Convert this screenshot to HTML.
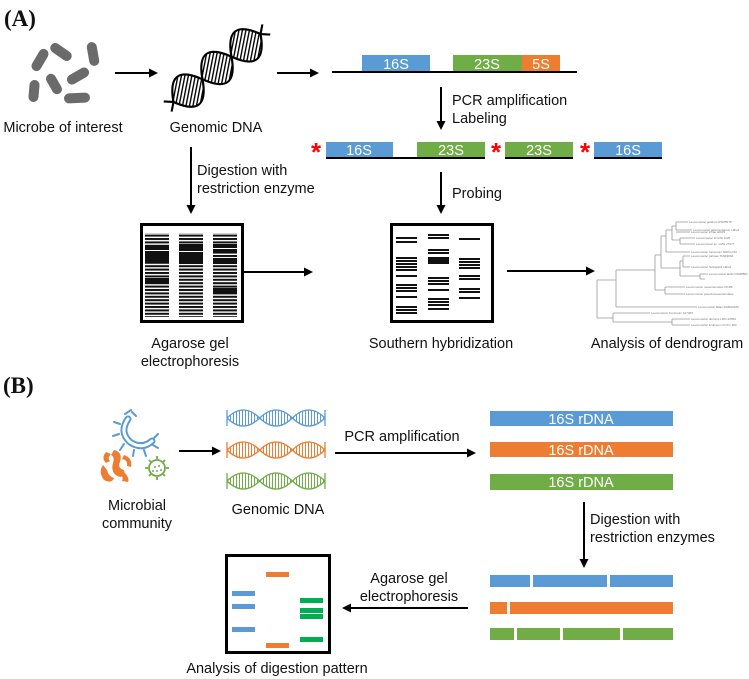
<!DOCTYPE html>
<html><head><meta charset="utf-8"><style>
html,body{margin:0;padding:0;background:#fff}
svg{display:block}
text{font-family:"Liberation Sans",sans-serif;font-size:14.5px;fill:#111}
.w{fill:#fff}
.s{font-family:"Liberation Serif",serif;font-weight:bold;font-size:23px}
</style></head><body>
<svg width="749" height="679" viewBox="0 0 749 679" xmlns="http://www.w3.org/2000/svg">
<defs>
<marker id="ah" markerWidth="10" markerHeight="10" refX="7" refY="4.5" orient="auto" markerUnits="userSpaceOnUse">
<path d="M0 0 L9 4.5 L0 9 Z" fill="#000"/></marker>
<pattern id="hatch" width="4" height="4" patternUnits="userSpaceOnUse" patternTransform="rotate(45)">
<rect width="4" height="4" fill="#fff"/><rect width="1.6" height="4" fill="#000"/></pattern>
<pattern id="gelp" width="4" height="3.4" patternUnits="userSpaceOnUse">
<rect width="4" height="2" fill="#111"/></pattern>
<pattern id="rb" width="3" height="20" patternUnits="userSpaceOnUse"><rect width="1" height="20" fill="#5b9bd5"/></pattern>
<pattern id="ro" width="3" height="20" patternUnits="userSpaceOnUse"><rect width="1" height="20" fill="#ed7d31"/></pattern>
<pattern id="rg" width="3" height="20" patternUnits="userSpaceOnUse"><rect width="1" height="20" fill="#70ad47"/></pattern>
</defs>

<!-- (A) -->
<text x="4" y="26" class="s">(A)</text>
<g fill="#6b6b6b">
<rect x="-12" y="-5" width="24" height="10" rx="5" transform="translate(40,60) rotate(-60)"/>
<rect x="-12" y="-5" width="24" height="10" rx="5" transform="translate(61,52) rotate(35)"/>
<rect x="-12" y="-5" width="24" height="10" rx="5" transform="translate(93,54) rotate(80)"/>
<rect x="-11" y="-5" width="22" height="10" rx="5" transform="translate(34,91) rotate(95)"/>
<rect x="-11" y="-5" width="22" height="10" rx="5" transform="translate(54,84) rotate(60)"/>
<rect x="-12" y="-5" width="24" height="10" rx="5" transform="translate(78,76) rotate(-30)"/>
<rect x="-13" y="-5" width="26" height="10" rx="5" transform="translate(77,98) rotate(-3)"/>
</g>
<g stroke="#000" stroke-width="2" marker-end="url(#ah)">
<line x1="115" y1="73" x2="156" y2="73"/>
<line x1="277" y1="73" x2="317" y2="73"/>
<line x1="191" y1="147" x2="191" y2="212"/>
<line x1="441" y1="87" x2="441" y2="128"/>
<line x1="441" y1="172" x2="441" y2="212"/>
<line x1="243" y1="272" x2="311" y2="272"/>
<line x1="507" y1="271" x2="593" y2="271"/>
</g>
<text x="63" y="132" text-anchor="middle">Microbe of interest</text>
<!-- helix A -->
<g transform="translate(217,68) rotate(-38) scale(0.92,0.8)">
<path d="M-60 0 Q-40 -44 -20 0 T20 0 T60 0 Q40 44 20 0 T-20 0 T-60 0 Z" fill="url(#hatch)"/>
<path d="M-68 -8 L-60 0 Q-40 -44 -20 0 T20 0 T60 0 L68 8" fill="none" stroke="#000" stroke-width="2.5"/>
<path d="M-68 8 L-60 0 Q-40 44 -20 0 T20 0 T60 0 L68 -8" fill="none" stroke="#000" stroke-width="2.5"/>
</g>
<text x="216" y="132" text-anchor="middle">Genomic DNA</text>
<!-- operon -->
<rect x="362" y="55" width="68" height="17" fill="#5b9bd5"/>
<rect x="453" y="55" width="69" height="17" fill="#70ad47"/>
<rect x="522" y="55" width="38" height="17" fill="#ed7d31"/>
<line x1="332" y1="72" x2="577" y2="72" stroke="#000" stroke-width="2"/>
<text x="396" y="69" text-anchor="middle" class="w">16S</text>
<text x="487" y="69" text-anchor="middle" class="w">23S</text>
<text x="541" y="69" text-anchor="middle" class="w">5S</text>
<text x="452" y="105">PCR amplification</text>
<text x="452" y="123">Labeling</text>
<!-- row2 -->
<rect x="326" y="142" width="67" height="15" fill="#5b9bd5"/>
<rect x="417" y="142" width="68" height="15" fill="#70ad47"/>
<rect x="505" y="142" width="68" height="15" fill="#70ad47"/>
<rect x="594" y="142" width="68" height="15" fill="#5b9bd5"/>
<g stroke="#000" stroke-width="2">
<line x1="326" y1="158" x2="485" y2="158"/>
<line x1="505" y1="158" x2="573" y2="158"/>
<line x1="594" y1="158" x2="662" y2="158"/>
</g>
<text x="359" y="155" text-anchor="middle" class="w">16S</text>
<text x="451" y="155" text-anchor="middle" class="w">23S</text>
<text x="539" y="155" text-anchor="middle" class="w">23S</text>
<text x="628" y="155" text-anchor="middle" class="w">16S</text>
<text x="311" y="161" style="fill:#f00;font-size:26px;font-weight:bold">*</text>
<text x="491" y="161" style="fill:#f00;font-size:26px;font-weight:bold">*</text>
<text x="580" y="161" style="fill:#f00;font-size:26px;font-weight:bold">*</text>
<text x="197" y="175">Digestion with</text>
<text x="197" y="193">restriction enzyme</text>
<text x="452" y="198">Probing</text>
<!-- gel 1 -->
<rect x="141.5" y="224.5" width="101" height="97" fill="#fff" stroke="#000" stroke-width="3"/>
<rect x="145" y="233" width="24" height="84" fill="url(#gelp)"/>
<rect x="179" y="233" width="24" height="84" fill="url(#gelp)"/>
<rect x="213" y="233" width="24" height="84" fill="url(#gelp)"/>
<g fill="#111">
<rect x="145" y="245" width="24" height="18"/>
<rect x="179" y="244" width="24" height="20"/>
<rect x="213" y="244" width="24" height="8"/>
<rect x="213" y="258" width="24" height="6"/>
<rect x="145" y="278" width="24" height="5"/>
<rect x="213" y="288" width="24" height="5"/>
</g>
<g fill="#fff">
<rect x="145" y="250" width="24" height="1"/>
<rect x="179" y="251" width="24" height="1"/>
<rect x="213" y="248" width="24" height="1"/>
</g>
<text x="190" y="348" text-anchor="middle">Agarose gel</text>
<text x="190" y="366" text-anchor="middle">electrophoresis</text>
<!-- southern -->
<rect x="391.5" y="224.5" width="101" height="97" fill="#fff" stroke="#000" stroke-width="3"/>
<g fill="#111">
<rect x="396" y="237" width="21" height="2"/><rect x="396" y="241" width="21" height="2"/>
<rect x="396" y="257" width="21" height="2"/><rect x="396" y="260" width="21" height="2"/><rect x="396" y="263" width="21" height="2"/><rect x="396" y="266" width="21" height="2"/><rect x="396" y="269" width="21" height="2"/>
<rect x="396" y="275" width="21" height="2"/>
<rect x="396" y="284" width="21" height="2"/><rect x="396" y="287" width="21" height="2"/><rect x="396" y="290" width="21" height="2"/>
<rect x="396" y="296" width="21" height="2"/>
<rect x="396" y="306" width="21" height="2"/><rect x="396" y="309" width="21" height="2"/><rect x="396" y="312" width="21" height="2"/>
<rect x="428" y="234" width="21" height="2"/><rect x="428" y="237" width="21" height="2"/>
<rect x="428" y="249" width="21" height="2"/><rect x="428" y="252" width="21" height="2"/>
<rect x="428" y="257" width="21" height="7"/>
<rect x="428" y="277" width="21" height="2"/><rect x="428" y="280" width="21" height="2"/><rect x="428" y="283" width="21" height="2"/>
<rect x="428" y="289" width="21" height="2"/>
<rect x="428" y="298" width="21" height="2"/><rect x="428" y="301" width="21" height="2"/><rect x="428" y="304" width="21" height="2"/>
<rect x="428" y="308" width="21" height="2"/>
<rect x="459" y="238" width="21" height="2"/>
<rect x="459" y="258" width="21" height="2"/><rect x="459" y="261" width="21" height="2"/><rect x="459" y="264" width="21" height="2"/><rect x="459" y="267" width="21" height="2"/>
<rect x="459" y="275" width="21" height="2"/><rect x="459" y="278" width="21" height="2"/>
<rect x="459" y="288" width="21" height="2"/><rect x="459" y="291" width="21" height="2"/>
<rect x="459" y="297" width="21" height="2"/>
</g>
<text x="441" y="348" text-anchor="middle">Southern hybridization</text>
<!-- dendrogram -->
<g stroke="#999" stroke-width="0.8" fill="none">
<path d="M597 280 V318 M597 280 H616 M597 318 H613"/>
<path d="M613 313 V322 M613 313 H650 M613 322 H672 M672 319 V325 M672 319 H690 M672 325 H690"/>
<path d="M616 270 V307 M616 307 H697 M616 270 H655"/>
<path d="M655 255 V290 M655 290 H665 M665 287 V294 M665 287 H685 M665 294 H685"/>
<path d="M655 255 H661 M661 236 V268 M661 268 H680 M680 261 V276 M680 261 H683 M683 256 V267 M683 256 H690 M683 267 H690 M680 276 H700 M700 274 V279 M700 274 H708 M700 279 H705"/>
<path d="M661 236 H666 M666 230 V252 M666 252 H690 M666 230 H672 M672 226 V240 M672 226 H676 M676 222 V230 M676 222 H688 M676 230 H692 M672 240 H680 M680 238 V244 M680 238 H695 M680 244 H695"/>
<path d="M676 232 H690"/>
</g>
<g>
<text x="689" y="223" style="font-size:3px;fill:#777">Leuconostoc gelidum DSM5578</text>
<text x="693" y="231" style="font-size:3px;fill:#777">Leuconostoc gasicomitatum LMG1</text>
<text x="691" y="233" style="font-size:3px;fill:#777">Leuconostoc inhae IH003</text>
<text x="696" y="239" style="font-size:3px;fill:#777">Leuconostoc kimchii IH25</text>
<text x="696" y="245" style="font-size:3px;fill:#777">Leuconostoc sp. LMG 27677</text>
<text x="691" y="253" style="font-size:3px;fill:#777">Leuconostoc carnosum NRIC1722</text>
<text x="691" y="257" style="font-size:3px;fill:#777">Leuconostoc palmae TMW2694</text>
<text x="691" y="268" style="font-size:3px;fill:#777">Leuconostoc holzapfelii LMG2</text>
<text x="709" y="275" style="font-size:3px;fill:#777">Leuconostoc lactis DSM8581</text>
<text x="686" y="288" style="font-size:3px;fill:#777">Leuconostoc mesenteroides NCFB</text>
<text x="686" y="295" style="font-size:3px;fill:#777">Leuconostoc pseudomesenteroides</text>
<text x="698" y="308" style="font-size:3px;fill:#777">Leuconostoc fallax DSM20189</text>
<text x="651" y="314" style="font-size:3px;fill:#777">Leuconostoc fructosum 107483</text>
<text x="691" y="320" style="font-size:3px;fill:#777">Leuconostoc durionis LMG 22556</text>
<text x="691" y="326" style="font-size:3px;fill:#777">Leuconostoc ficulneum KCTC 384</text>
</g>
<text x="667" y="348" text-anchor="middle">Analysis of dendrogram</text>

<!-- (B) -->
<text x="3" y="393" class="s">(B)</text>
<!-- microbes -->
<g stroke="#5b9bd5" fill="none" stroke-linecap="round">
<path d="M128 419 Q119 432 130 442 Q142 450 152 441" stroke-width="7"/>
<path d="M128 419 Q119 432 130 442 Q142 450 152 441" stroke="#fff" stroke-width="3"/>
<path d="M125 414 L131 410 M120 424 L114 422 M119 434 L113 436 M124 444 L120 450 M134 450 L133 456 M144 450 L146 456 M153 445 L158 448 M154 438 L158 434 M132 412 L136 416" stroke-width="2"/>
</g>
<g fill="#ed7d31">
<path d="M106 452 Q101 458 106 463 L110 461 Q107 458 111 454 Z"/>
<path d="M114 450 Q123 452 120 462 Q117 468 124 470 Q126 476 120 477 Q110 474 113 463 Q115 457 111 455 Z"/>
<path d="M124 455 Q133 458 131 467 L127 466 Q128 460 122 459 Z"/>
<path d="M103 465 Q98 472 104 480 Q112 484 114 478 Q108 476 107 470 Z"/>
<path d="M124 472 Q130 478 128 482 L122 481 Q124 477 120 475 Z"/>
</g>
<g stroke="#70ad47" stroke-width="1.8" fill="none">
<circle cx="157" cy="468" r="8"/>
<path d="M157 456 V459 M157 477 V480 M145 468 H148 M166 468 H169 M149 460 L151 462 M165 460 L163 462 M149 476 L151 474 M165 476 L163 474"/>
</g>
<g fill="#70ad47"><circle cx="155" cy="467" r="1"/><circle cx="159" cy="466" r="1"/><circle cx="157" cy="471" r="1"/><circle cx="161" cy="470" r="1"/><circle cx="153" cy="471" r="1"/></g>
<text x="137" y="510" text-anchor="middle">Microbial</text>
<text x="137" y="528" text-anchor="middle">community</text>
<g stroke="#000" stroke-width="2" marker-end="url(#ah)">
<line x1="179" y1="451" x2="219" y2="451"/>
<line x1="335" y1="453" x2="474" y2="453"/>
<line x1="584" y1="502" x2="584" y2="566"/>
<line x1="468" y1="608" x2="344" y2="608"/>
</g>
<!-- helices B -->
<g transform="translate(227,418)">
<path d="M0 0 Q16.33 -16 32.67 0 T65.33 0 T98 0 Q81.67 16 65.33 0 T32.67 0 T0 0 Z" fill="url(#rb)"/>
<path d="M0 0 Q16.33 -16 32.67 0 T65.33 0 T98 0 M0 0 Q16.33 16 32.67 0 T65.33 0 T98 0 M0 -8 L0 8 M98 -8 L98 8" fill="none" stroke="#5b9bd5" stroke-width="1.3"/>
</g>
<g transform="translate(227,450)">
<path d="M0 0 Q16.33 -16 32.67 0 T65.33 0 T98 0 Q81.67 16 65.33 0 T32.67 0 T0 0 Z" fill="url(#ro)"/>
<path d="M0 0 Q16.33 -16 32.67 0 T65.33 0 T98 0 M0 0 Q16.33 16 32.67 0 T65.33 0 T98 0 M0 -8 L0 8 M98 -8 L98 8" fill="none" stroke="#ed7d31" stroke-width="1.3"/>
</g>
<g transform="translate(227,481)">
<path d="M0 0 Q16.33 -16 32.67 0 T65.33 0 T98 0 Q81.67 16 65.33 0 T32.67 0 T0 0 Z" fill="url(#rg)"/>
<path d="M0 0 Q16.33 -16 32.67 0 T65.33 0 T98 0 M0 0 Q16.33 16 32.67 0 T65.33 0 T98 0 M0 -8 L0 8 M98 -8 L98 8" fill="none" stroke="#70ad47" stroke-width="1.3"/>
</g>
<text x="278" y="514" text-anchor="middle">Genomic DNA</text>
<text x="402" y="441" text-anchor="middle">PCR amplification</text>
<!-- rDNA bars -->
<rect x="490" y="411" width="183" height="15" fill="#5b9bd5"/>
<rect x="490" y="442" width="183" height="15" fill="#ed7d31"/>
<rect x="490" y="474" width="183" height="16" fill="#70ad47"/>
<text x="581" y="424" text-anchor="middle" class="w">16S rDNA</text>
<text x="581" y="455" text-anchor="middle" class="w">16S rDNA</text>
<text x="581" y="487" text-anchor="middle" class="w">16S rDNA</text>
<text x="590" y="524">Digestion with</text>
<text x="590" y="542">restriction enzymes</text>
<!-- cut bars -->
<g fill="#5b9bd5"><rect x="490" y="575" width="40" height="12"/><rect x="533" y="575" width="74" height="12"/><rect x="610" y="575" width="63" height="12"/></g>
<g fill="#ed7d31"><rect x="490" y="602" width="17" height="12"/><rect x="510" y="602" width="163" height="12"/></g>
<g fill="#70ad47"><rect x="490" y="628" width="24" height="12"/><rect x="517" y="628" width="43" height="12"/><rect x="563" y="628" width="57" height="12"/><rect x="623" y="628" width="50" height="12"/></g>
<text x="409" y="583" text-anchor="middle">Agarose gel</text>
<text x="409" y="601" text-anchor="middle">electrophoresis</text>
<!-- gel B -->
<rect x="226.5" y="555.5" width="103" height="97" fill="#fff" stroke="#000" stroke-width="3"/>
<g fill="#5b9bd5"><rect x="232" y="591" width="23" height="5"/><rect x="232" y="604" width="23" height="5"/><rect x="232" y="627" width="23" height="5"/></g>
<g fill="#ed7d31"><rect x="266" y="572" width="23" height="5"/><rect x="266" y="643" width="23" height="5"/></g>
<g fill="#00b050"><rect x="300" y="598" width="23" height="5"/><rect x="300" y="608" width="23" height="5"/><rect x="300" y="614" width="23" height="5"/><rect x="300" y="637" width="23" height="5"/></g>
<text x="277" y="673" text-anchor="middle">Analysis of digestion pattern</text>
</svg>
</body></html>
